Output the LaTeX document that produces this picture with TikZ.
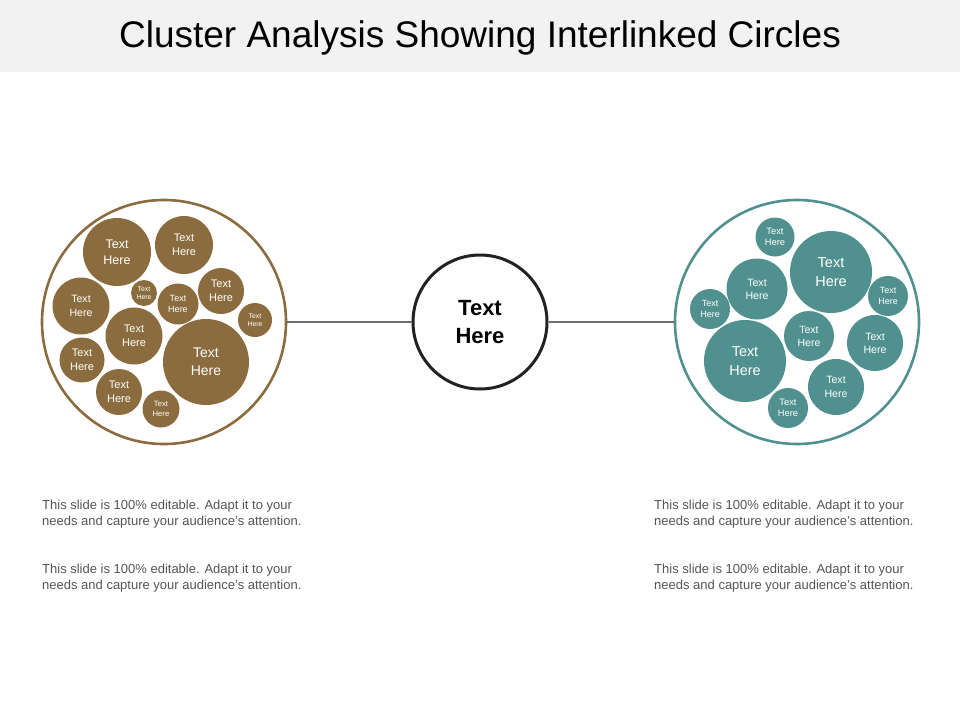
\documentclass[tikz,border=0pt]{standalone}
\usepackage{fontspec}
\setmainfont{Liberation Sans}
\definecolor{brn}{RGB}{139,108,62}
\definecolor{tea}{RGB}{80,145,144}
\definecolor{band}{RGB}{242,242,242}
\definecolor{bodyg}{RGB}{85,85,85}
\definecolor{linkg}{RGB}{110,110,110}
\begin{document}
\begin{tikzpicture}[x=1pt,y=-1pt,
  bub/.style={circle, inner sep=0pt, text=white, align=center},
  bb/.style={bub, fill=brn},
  tb/.style={bub, fill=tea},
  outer/.style={circle, inner sep=0pt, line width=2.6pt, minimum size=244pt},
  link/.style={draw=linkg, line width=2.2pt},
  body/.style={anchor=base west, inner sep=0pt, align=left, text=bodyg, font=\fontsize{13}{16}\selectfont}]
\useasboundingbox (0,0) rectangle (960,720);
\fill[white] (0,0) rectangle (960,720);
\fill[band] (0,0) rectangle (960,72);
\node[anchor=base, font=\fontsize{37}{40}\selectfont] (title) at (480,47) {Cluster Analysis Showing Interlinked Circles};
% outer circles
\node[outer, draw=brn] (L) at (164,322) {};
\node[outer, draw=tea] (R) at (797,322) {};
\node[circle, draw={rgb,255:red,34;green,34;blue,34}, line width=3pt, minimum size=134pt, inner sep=0pt, align=center, font=\fontsize{22}{28}\selectfont\bfseries] (C) at (480,322) {Text\\Here};
\draw[link] (L) -- (C);
\draw[link] (C) -- (R);
% left bubbles
\node[bb, minimum size=68pt, font=\fontsize{12.5}{15.7}\selectfont] (l1) at (117,252) {Text\\Here};
\node[bb, minimum size=58pt, font=\fontsize{11}{14}\selectfont] (l2) at (184,245) {Text\\Here};
\node[bb, minimum size=26pt, font=\fontsize{6.9}{8}\selectfont] (l3) at (144,293) {Text\\Here};
\node[bb, minimum size=57pt, font=\fontsize{10.6}{14}\selectfont] (l4) at (81,306) {Text\\Here};
\node[bb, minimum size=41pt, font=\fontsize{9}{11.5}\selectfont] (l5) at (178,304) {Text\\Here};
\node[bb, minimum size=46pt, font=\fontsize{11}{13.5}\selectfont] (l6) at (221,291) {Text\\Here};
\node[bb, minimum size=34pt, font=\fontsize{6.9}{8.5}\selectfont] (l7) at (255,320) {Text\\Here};
\node[bb, minimum size=57pt, font=\fontsize{11}{13.5}\selectfont] (l8) at (134,336) {Text\\Here};
\node[bb, minimum size=86pt, font=\fontsize{14}{18.3}\selectfont] (l9) at (206,362) {Text\\Here};
\node[bb, minimum size=45pt, font=\fontsize{11}{13.5}\selectfont] (l10) at (82,360) {Text\\Here};
\node[bb, minimum size=46pt, font=\fontsize{11}{13.5}\selectfont] (l11) at (119,392) {Text\\Here};
\node[bb, minimum size=37pt, font=\fontsize{7.7}{9.5}\selectfont] (l12) at (161,409) {Text\\Here};
% right bubbles
\node[tb, minimum size=39pt, font=\fontsize{9.3}{11}\selectfont] (r1) at (775,237) {Text\\Here};
\node[tb, minimum size=82pt, font=\fontsize{14.5}{19}\selectfont] (r2) at (831,272) {Text\\Here};
\node[tb, minimum size=61pt, font=\fontsize{10.6}{13}\selectfont] (r3) at (757,289) {Text\\Here};
\node[tb, minimum size=40pt, font=\fontsize{9}{11}\selectfont] (r4) at (710,309) {Text\\Here};
\node[tb, minimum size=40pt, font=\fontsize{9}{11}\selectfont] (r5) at (888,296) {Text\\Here};
\node[tb, minimum size=50pt, font=\fontsize{10.5}{13}\selectfont] (r6) at (809,336) {Text\\Here};
\node[tb, minimum size=56pt, font=\fontsize{10.6}{13}\selectfont] (r7) at (875,343) {Text\\Here};
\node[tb, minimum size=82pt, font=\fontsize{14.4}{19}\selectfont] (r8) at (745,361) {Text\\Here};
\node[tb, minimum size=56pt, font=\fontsize{10.6}{13.5}\selectfont] (r9) at (836,387) {Text\\Here};
\node[tb, minimum size=40pt, font=\fontsize{9.3}{11}\selectfont] (r10) at (788,408) {Text\\Here};
% body texts
\node[body] (t1) at (42,525) {This slide is 100\% editable. Adapt it to your\\needs and capture your audience's attention.};
\node[body] (t2) at (42,589) {This slide is 100\% editable. Adapt it to your\\needs and capture your audience's attention.};
\node[body] (t3) at (654,525) {This slide is 100\% editable. Adapt it to your\\needs and capture your audience's attention.};
\node[body] (t4) at (654,589) {This slide is 100\% editable. Adapt it to your\\needs and capture your audience's attention.};
\end{tikzpicture}
\end{document}
